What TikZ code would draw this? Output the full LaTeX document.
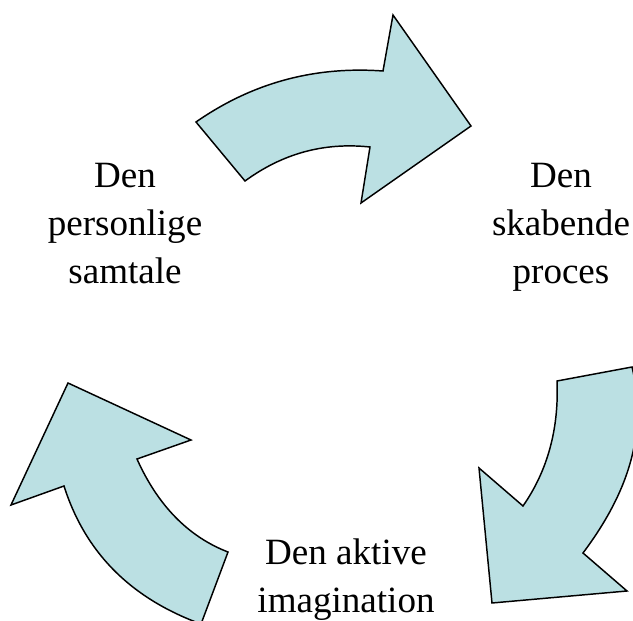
\documentclass[tikz,border=0pt]{standalone}
\usepackage{fontspec}
\setmainfont{Liberation Serif}
\definecolor{arrowfill}{RGB}{187,224,227}
\begin{document}
\begin{tikzpicture}[x=0.75pt,y=-0.75pt,
  cyclearrow/.style={fill=arrowfill,draw=black,line width=1.1pt,line join=miter},
  label/.style={align=center,inner sep=0pt,anchor=base,font=\fontsize{27.8}{36}\selectfont}]
\useasboundingbox (0,0) rectangle (633,621);
\begin{scope}
\clip (0,0) rectangle (633,621);
% top arrow
\path[cyclearrow] (196,122) .. controls (252,83) and (314,66) .. (383,71)
  -- (393,15) -- (471,126) -- (361,203) -- (370,147)
  .. controls (323,142) and (282,154) .. (245,181) -- cycle;
% right arrow
\path[cyclearrow] (557,381) -- (632,367) .. controls (648,433) and (628,493) .. (583,553)
  -- (627,591) -- (492,603) -- (479,468) -- (523,506)
  .. controls (548,470) and (559,428) .. (557,381) -- cycle;
% left arrow
\path[cyclearrow] (228,552) .. controls (189,537) and (158,506) .. (137,459)
  -- (191,440) -- (68,383) -- (11,505) -- (64,486)
  .. controls (85,552) and (130,598) .. (201,624) -- cycle;
\end{scope}
\node[label] (samtale) at (125,283) {Den\\personlige\\samtale};
\node[label] (proces) at (561,283) {Den\\skabende\\proces};
\node[label] (imagination) at (346,612) {Den aktive\\imagination};
\end{tikzpicture}
\end{document}
